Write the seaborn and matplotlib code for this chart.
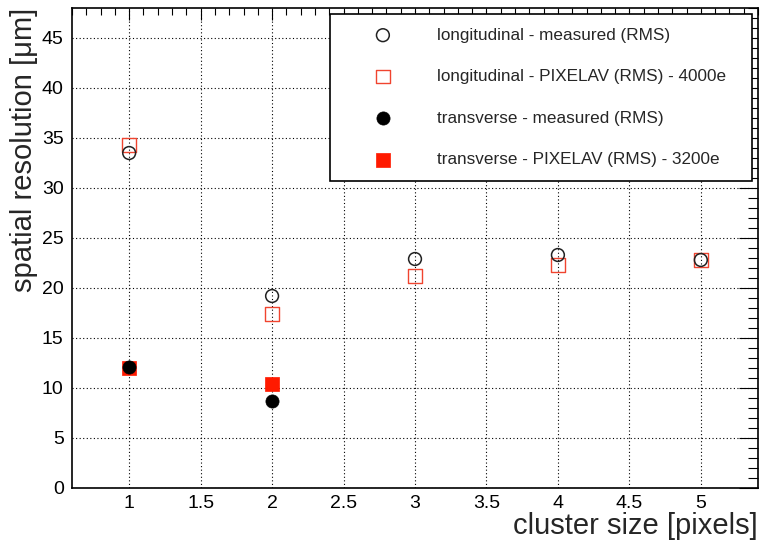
import matplotlib
matplotlib.use('Agg')
import matplotlib.pyplot as plt
import seaborn as sns
from matplotlib.ticker import MultipleLocator, FuncFormatter

# ---- data ----
cluster_size = [1, 2, 3, 4, 5]
long_measured = [33.5, 19.2, 22.9, 23.3, 22.8]
long_pixelav = [34.3, 17.4, 21.2, 22.3, 22.8]
trans_cluster_size = [1, 2]
trans_measured = [12.1, 8.7]
trans_pixelav = [12.0, 10.4]

series_labels = [
    "longitudinal - measured (RMS)",
    "longitudinal - PIXELAV (RMS) - 4000e",
    "transverse - measured (RMS)",
    "transverse - PIXELAV (RMS) - 3200e",
]
x_label = "cluster size [pixels]"
y_label = "spatial resolution [\u03bcm]"

sns.set_style('white')
plt.rcParams['font.family'] = ['Liberation Sans', 'DejaVu Sans']

RED = '#ff1a00'
RED_OPEN = '#f0442f'

fig = plt.figure(figsize=(7.61, 5.41), dpi=100)
ax = fig.add_axes([72/761, 53/541, 686/761, 480/541])

sns.scatterplot(x=cluster_size, y=long_pixelav, ax=ax, marker='s', s=95,
                facecolor='none', edgecolor=RED_OPEN, linewidth=1.0,
                label=series_labels[1], zorder=3)
sns.scatterplot(x=cluster_size, y=long_measured, ax=ax, marker='o', s=85,
                facecolor='none', edgecolor='#222222', linewidth=1.1,
                label=series_labels[0], zorder=3)
sns.scatterplot(x=trans_cluster_size, y=trans_pixelav, ax=ax, marker='s', s=95,
                color=RED, edgecolor=RED, linewidth=0.5,
                label=series_labels[3], zorder=3)
sns.scatterplot(x=trans_cluster_size, y=trans_measured, ax=ax, marker='o', s=90,
                color='black', edgecolor='black', linewidth=0.5,
                label=series_labels[2], zorder=3)

ax.set_xlim(0.6, 5.4)
ax.set_ylim(0, 48)

ax.xaxis.set_major_locator(MultipleLocator(0.5))
ax.xaxis.set_minor_locator(MultipleLocator(0.1))
ax.yaxis.set_major_locator(MultipleLocator(5))
ax.yaxis.set_minor_locator(MultipleLocator(1))
ax.xaxis.set_major_formatter(FuncFormatter(lambda v, p: f"{v:g}"))

ax.grid(True, which='major', color='black', linestyle=(0, (1, 2.2)), linewidth=0.8)
ax.set_axisbelow(True)

ax.tick_params(which='both', direction='in', top=True, right=True, width=0.8,
               colors='black', labelsize=14)
ax.tick_params(axis='y', which='major', length=14, pad=6)
ax.tick_params(axis='y', which='minor', length=7)
ax.tick_params(axis='x', which='major', length=8.5, pad=5)
ax.tick_params(axis='x', which='minor', length=5)

for sp in ax.spines.values():
    sp.set_color('black')
    sp.set_linewidth(1.2)

ax.set_xlabel(x_label, fontsize=21, loc='right', labelpad=0)
ax.set_ylabel(y_label, fontsize=21, loc='top', labelpad=3)

handles, labels = ax.get_legend_handles_labels()
order = [labels.index(l) for l in series_labels]
leg = ax.legend([handles[i] for i in order], [labels[i] for i in order],
                loc='upper left', bbox_to_anchor=(0.376, 0.6417, 0.615, 0.3458),
                mode='expand', borderaxespad=0, fontsize=12.3,
                frameon=True, fancybox=False, framealpha=1, edgecolor='black',
                handlelength=4.6, handletextpad=0.85, borderpad=0.8,
                labelspacing=1.55, markerscale=1.0)
leg.get_frame().set_linewidth(1.2)

fig.savefig('out.png', dpi=100)
